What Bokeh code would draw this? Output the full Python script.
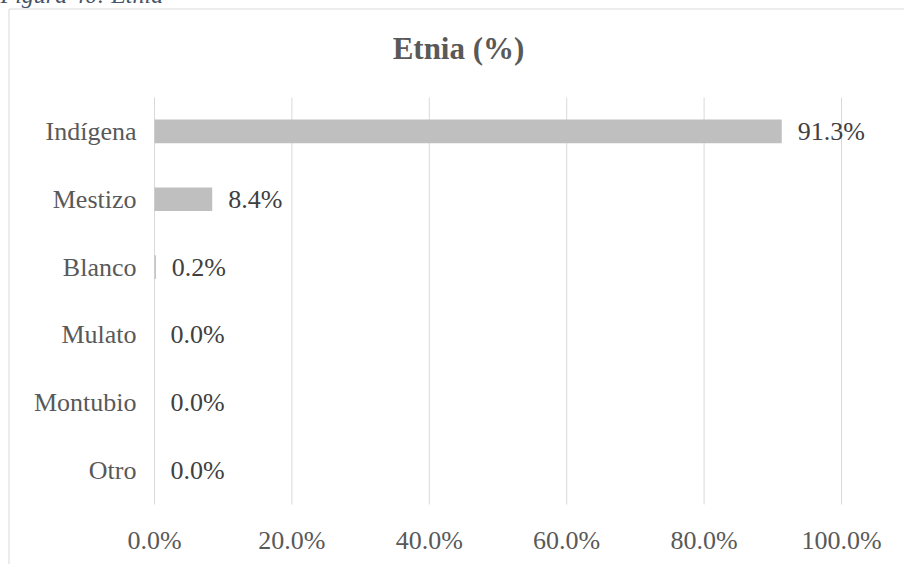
from bokeh.plotting import figure
from bokeh.models import Range1d, ColumnDataSource
from bokeh.core.properties import value
from bokeh.embed import file_html
from bokeh.resources import INLINE

categories = ["Indígena", "Mestizo", "Blanco", "Mulato", "Montubio", "Otro"]
percentages = [91.3, 8.4, 0.2, 0.0, 0.0, 0.0]
x_ticks = [0, 20, 40, 60, 80, 100]
x_tick_labels = ["0.0%", "20.0%", "40.0%", "60.0%", "80.0%", "100.0%"]
title_text = "Etnia (%)"
caption_text = "Figura 40: Etnia"

FONT = "Liberation Serif"
W, H = 905, 565
# plot-area geometry (canvas pixels)
PL, PT, PB = 155, 98, 505
PX100 = 687.0
N = len(categories)
ROW = (PB - PT) / N


def dx(px):  # canvas x -> data x
    return (px - PL) * 100 / PX100


def dy(py):  # canvas y -> data y (0 at plot bottom, N at plot top)
    return (PB - py) / ROW


p = figure(width=W, height=H,
           x_range=Range1d(dx(0), dx(W)), y_range=Range1d(dy(H), dy(0)),
           x_axis_type=None, y_axis_type=None,
           output_backend="svg", toolbar_location=None,
           min_border=0)
p.margin = (-1, 0, 0, -1)
p.outline_line_color = None
p.grid.visible = False
p.background_fill_color = "white"
p.border_fill_color = "white"

ypos = [N - i - 0.5 for i in range(N)]
src = ColumnDataSource(dict(
    cat=categories, y=ypos, val=percentages, zero=[0] * N,
    lbl=[f"{v:.1f}%" for v in percentages]))

# chart border (left + top)
p.line(x=[dx(9.5), dx(9.5), dx(W + 5)], y=[dy(H + 5), dy(9.5), dy(9.5)],
       line_color="#d9d9d9", line_width=1)

# vertical gridlines at ticks
p.segment(x0=x_ticks, x1=x_ticks, y0=[0] * len(x_ticks), y1=[N] * len(x_ticks),
          line_color="#d9d9d9", line_width=1)

# bars
p.hbar(y="y", right="val", left=0, height=0.35, source=src,
       fill_color="#bfbfbf", line_color=None)

# value labels
p.text(x="val", y="y", text="lbl", source=src, x_offset=16,
       text_baseline="middle", text_align="left",
       text_font=value(FONT), text_font_size="26px", text_color="#404040")

# category labels (y axis)
p.text(x="zero", y="y", text="cat", source=src, x_offset=-18,
       text_baseline="middle", text_align="right",
       text_font=value(FONT), text_font_size="26px", text_color="#595959")

# x tick labels
p.text(x=x_ticks, y=[0] * len(x_ticks), text=x_tick_labels, y_offset=36,
       text_baseline="alphabetic", text_align="center",
       text_font=value(FONT), text_font_size="26px", text_color="#595959")

# title
p.text(x=[dx(459)], y=[N], text=[title_text], y_offset=-49,
       text_baseline="alphabetic", text_align="center",
       text_font=value(FONT), text_font_size="31px", text_font_style="bold",
       text_color="#595959")

# caption (cut off at top, as in the source)
p.text(x=[dx(1)], y=[N], text=[caption_text], y_offset=-103,
       text_baseline="alphabetic", text_align="left",
       text_font=value(FONT), text_font_size="24px", text_font_style="italic",
       text_color="#44546a")

open("out.html", "w").write(file_html(p, INLINE))
